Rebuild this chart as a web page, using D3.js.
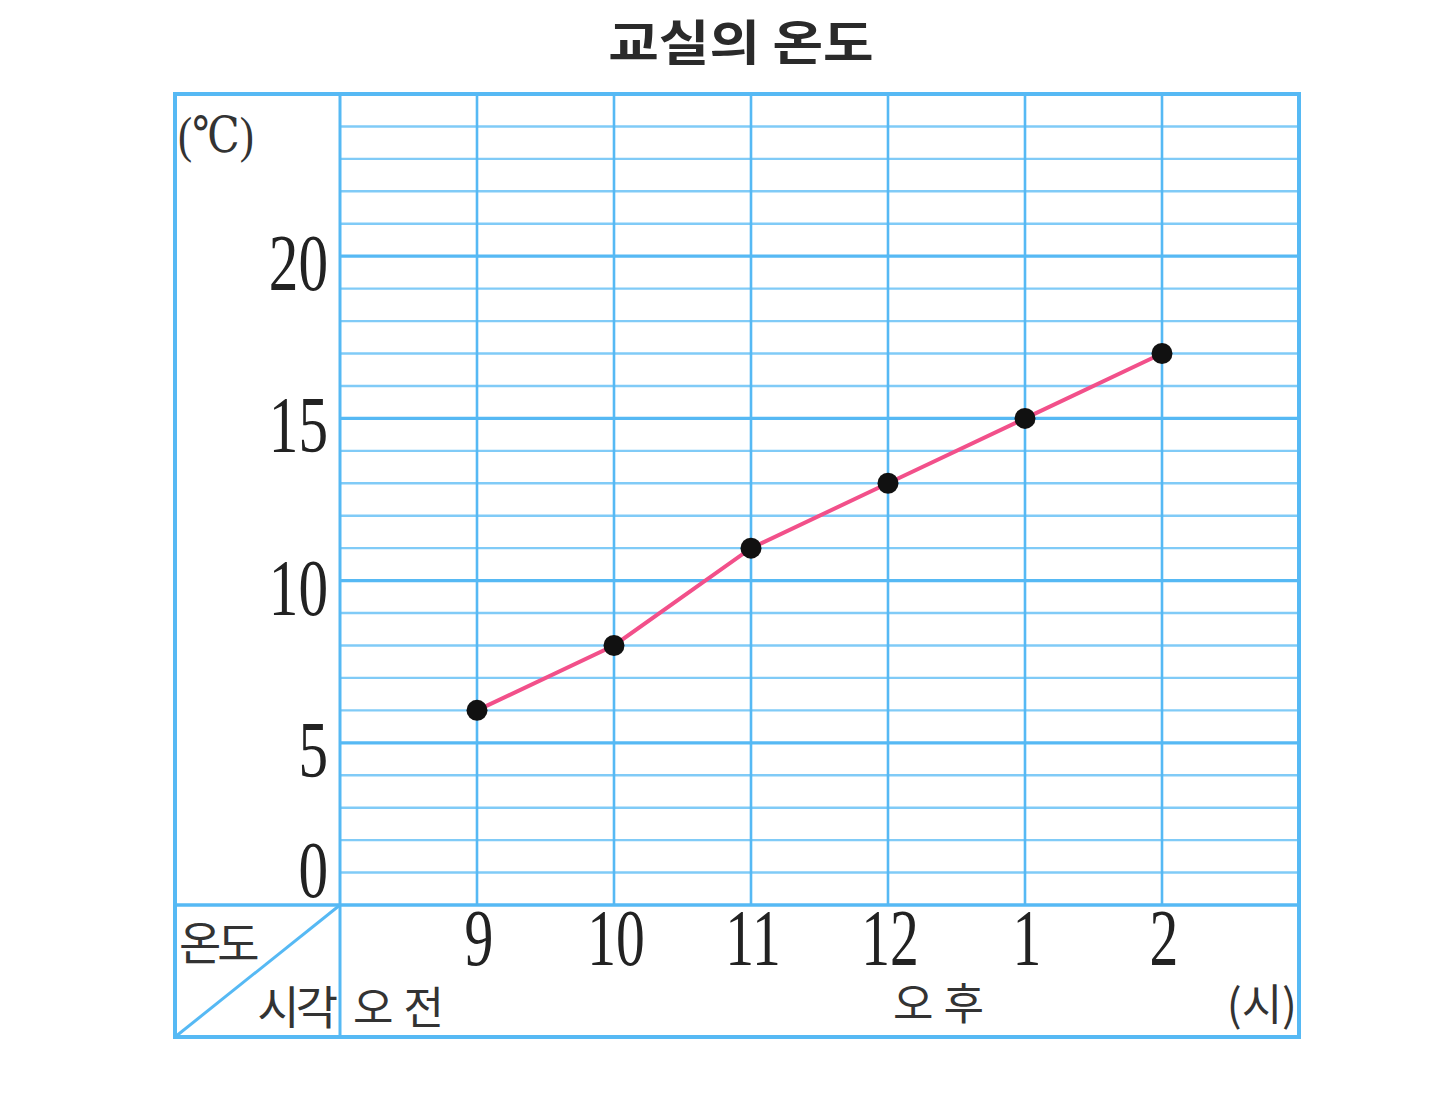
<!DOCTYPE html>
<html>
<head>
<meta charset="utf-8">
<script src="https://cdn.jsdelivr.net/npm/d3@7"></script>
<style>
  html, body { margin: 0; padding: 0; background: #fff; }
  svg { display: block; }
</style>
</head>
<body>
<svg id="chart" width="1435" height="1120"></svg>
<script>
// ---- data ----
const times = ["9", "10", "11", "12", "1", "2"];
const temps = [6, 8, 11, 13, 15, 17];
const yTicks = [0, 5, 10, 15, 20];
const title = "교실의 온도";
const unitY = "(℃)";
const unitX = "(시)";
const amLabel = "오전";
const pmLabel = "오후";
const cornerTop = "온도";
const cornerBottom = "시각";

// ---- layout ----
const boxL = 175, boxR = 1299, boxT = 94, boxB = 1037;
const gridL = 340, gridB = 905;
const blue = "#56b9f4";
const serif = "'Liberation Serif', 'DejaVu Serif', serif";
const kr = "'Noto Sans CJK KR', 'Noto Sans', sans-serif";

const svg = d3.select("#chart");

const x = d3.scaleLinear().domain([0, times.length + 1]).range([gridL, boxR]);
const y = d3.scaleLinear().domain([0, 25]).range([gridB, boxT]);

// title
svg.append("text")
  .attr("transform", "translate(741,60) scale(1.1,0.95)")
  .attr("text-anchor", "middle")
  .attr("font-family", kr)
  .attr("font-weight", 700)
  .attr("font-size", 50)
  .attr("fill", "#2a2a2a")
  .text(title);

const g = svg.append("g");

// horizontal grid lines (every degree)
const hVals = d3.range(1, 25);
g.selectAll("line.h").data(hVals).join("line")
  .attr("class", "h")
  .attr("x1", gridL).attr("x2", boxR)
  .attr("y1", d => y(d)).attr("y2", d => y(d))
  .attr("stroke", blue)
  .attr("stroke-opacity", d => d % 5 === 0 ? 1 : 0.75)
  .attr("stroke-width", d => d % 5 === 0 ? 3.2 : 2.4);

// vertical grid lines
g.selectAll("line.v").data(times).join("line")
  .attr("class", "v")
  .attr("x1", (d, i) => x(i + 1)).attr("x2", (d, i) => x(i + 1))
  .attr("y1", boxT).attr("y2", gridB)
  .attr("stroke", blue).attr("stroke-width", 2.6);

// divider lines
g.append("line").attr("x1", gridL).attr("x2", gridL).attr("y1", boxT).attr("y2", boxB)
  .attr("stroke", blue).attr("stroke-width", 3);
g.append("line").attr("x1", boxL).attr("x2", boxR).attr("y1", gridB).attr("y2", gridB)
  .attr("stroke", blue).attr("stroke-width", 3.5);
// diagonal in corner cell
g.append("line").attr("x1", boxL).attr("y1", boxB).attr("x2", gridL).attr("y2", gridB)
  .attr("stroke", blue).attr("stroke-width", 3);

// outer box
g.append("rect")
  .attr("x", boxL).attr("y", boxT)
  .attr("width", boxR - boxL).attr("height", boxB - boxT)
  .attr("fill", "none").attr("stroke", blue).attr("stroke-width", 4);

// y tick labels (condensed serif)
svg.selectAll("text.yt").data(yTicks).join("text")
  .attr("class", "yt")
  .attr("transform", d => `translate(328, ${d === 0 ? y(d) - 8 : y(d) + 34}) scale(0.74,1)`)
  .attr("text-anchor", "end")
  .attr("font-family", serif)
  .attr("font-size", 80)
  .attr("fill", "#222")
  .text(d => d);

// x tick labels
svg.selectAll("text.xt").data(times).join("text")
  .attr("class", "xt")
  .attr("transform", (d, i) => `translate(${x(i + 1) + 2}, 965) scale(0.72,1)`)
  .attr("text-anchor", "middle")
  .attr("font-family", serif)
  .attr("font-size", 80)
  .attr("fill", "#222")
  .text(d => d);

// unit labels
svg.append("text")
  .attr("transform", "translate(178,152) scale(0.85,1)")
  .attr("font-family", serif)
  .attr("font-size", 50)
  .attr("fill", "#333")
  .text(unitY);

svg.append("text")
  .attr("x", 1297).attr("y", 1021)
  .attr("text-anchor", "end")
  .attr("font-family", kr)
  .attr("font-size", 44)
  .attr("fill", "#333")
  .text(unitX);

// corner labels
svg.append("text")
  .attr("x", 179).attr("y", 960)
  .attr("font-family", kr).attr("font-size", 46).attr("fill", "#333")
  .attr("letter-spacing", -4)
  .text(cornerTop);
svg.append("text")
  .attr("x", 334).attr("y", 1024)
  .attr("text-anchor", "end")
  .attr("font-family", kr).attr("font-size", 46).attr("fill", "#333")
  .attr("letter-spacing", -4)
  .text(cornerBottom);

// am / pm labels
svg.append("text")
  .attr("x", 353).attr("y", 1024)
  .attr("font-family", kr).attr("font-size", 44).attr("fill", "#333")
  .attr("letter-spacing", 10)
  .text(amLabel);
svg.append("text")
  .attr("x", 893).attr("y", 1020)
  .attr("font-family", kr).attr("font-size", 44).attr("fill", "#333")
  .attr("letter-spacing", 10)
  .text(pmLabel);

// line
const pts = times.map((t, i) => [x(i + 1), y(temps[i])]);
svg.append("path")
  .attr("d", d3.line()(pts))
  .attr("fill", "none")
  .attr("stroke", "#f2508a")
  .attr("stroke-width", 4);

svg.selectAll("circle.pt").data(pts).join("circle")
  .attr("class", "pt")
  .attr("cx", d => d[0]).attr("cy", d => d[1])
  .attr("r", 10.5)
  .attr("fill", "#111");
</script>
</body>
</html>
